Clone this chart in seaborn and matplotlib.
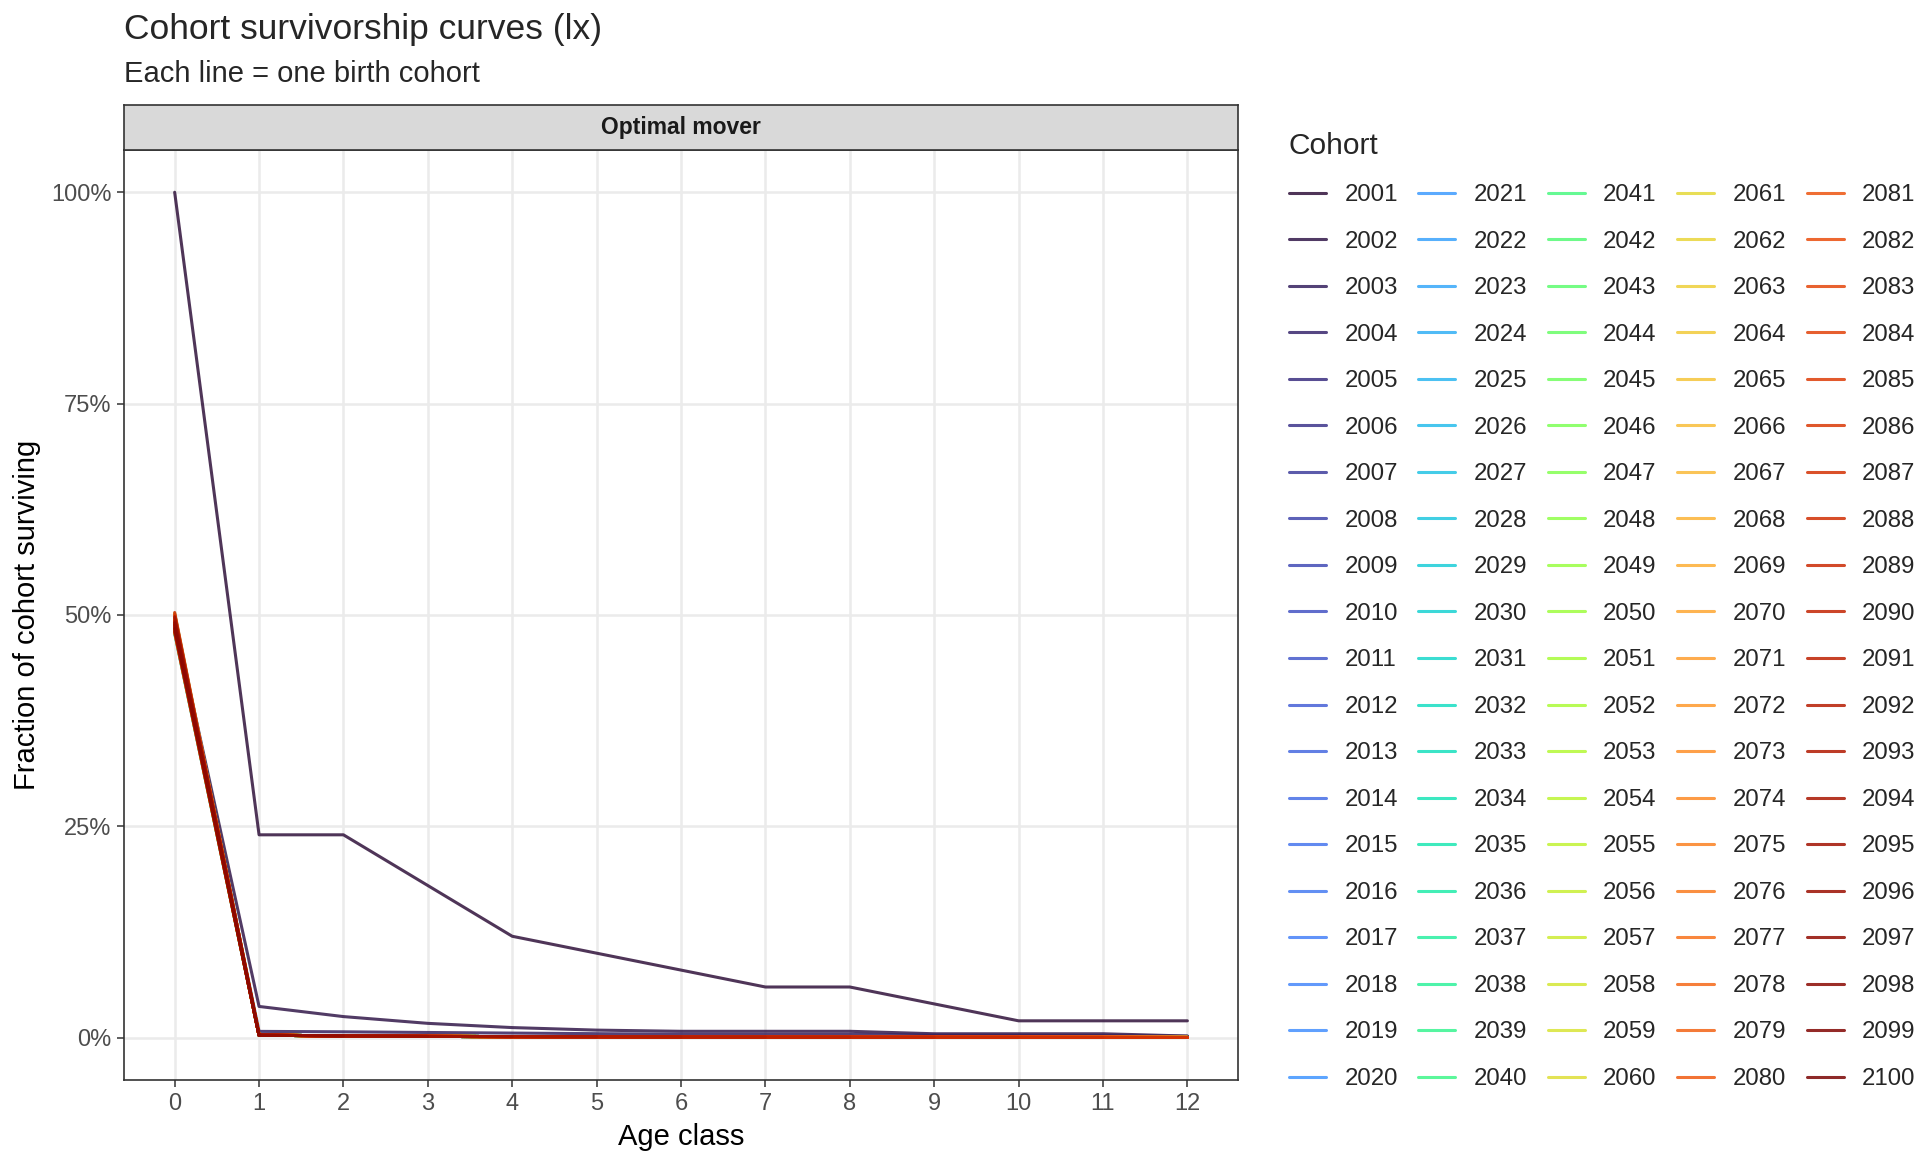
import matplotlib
matplotlib.use("Agg")
import matplotlib.pyplot as plt
import matplotlib.ticker as mticker
from matplotlib import colormaps
import numpy as np
import pandas as pd
import seaborn as sns

# ---------------- data ----------------
ages = list(range(13))
cohorts = list(range(2001, 2101))
last_year = 2099  # last observed calendar year

lx_2001 = [1.00, 0.24, 0.24, 0.18, 0.12, 0.10, 0.08, 0.06, 0.06, 0.04, 0.02, 0.02, 0.02]
lx_2002_tail = [0.037, 0.025, 0.017, 0.012, 0.009, 0.0076, 0.0076, 0.0076, 0.0047, 0.0047, 0.0047, 0.002]
lx_2003_tail = [0.0075, 0.0070, 0.0062, 0.0055, 0.0048, 0.0042, 0.0040, 0.0040, 0.0030, 0.0028, 0.0025, 0.0018]
lx_typical_tail = [0.0030, 0.0022, 0.0016, 0.0013, 0.0011, 0.0009, 0.0008, 0.0007, 0.0006, 0.0005, 0.0004, 0.0003]

# age-0 survivorship for cohorts 2002..2100
lx_age0 = [0.492, 0.488, 0.495, 0.483, 0.499, 0.487, 0.491, 0.480, 0.496, 0.489,
           0.484, 0.493, 0.498, 0.486, 0.490, 0.479, 0.494, 0.488, 0.501, 0.485,
           0.492, 0.482, 0.497, 0.489, 0.486, 0.495, 0.481, 0.490, 0.499, 0.487,
           0.493, 0.484, 0.496, 0.488, 0.491, 0.478, 0.494, 0.500, 0.486, 0.489,
           0.483, 0.497, 0.490, 0.485, 0.493, 0.488, 0.502, 0.481, 0.495, 0.487,
           0.491, 0.484, 0.498, 0.489, 0.486, 0.494, 0.480, 0.492, 0.500, 0.487,
           0.490, 0.483, 0.496, 0.488, 0.485, 0.493, 0.499, 0.482, 0.491, 0.487,
           0.495, 0.484, 0.489, 0.501, 0.486, 0.492, 0.479, 0.497, 0.488, 0.490,
           0.483, 0.494, 0.500, 0.485, 0.491, 0.487, 0.503, 0.482, 0.496, 0.489,
           0.486, 0.493, 0.480, 0.498, 0.488, 0.491, 0.484, 0.504, 0.487]

rows = []
for i, c in enumerate(cohorts):
    if c == 2001:
        series = lx_2001
    elif c == 2002:
        series = [lx_age0[0]] + lx_2002_tail
    elif c == 2003:
        series = [lx_age0[1]] + lx_2003_tail
    else:
        series = [lx_age0[i - 1]] + lx_typical_tail
    max_age = min(12, last_year - c)
    for a in ages[:max_age + 1]:
        rows.append({"cohort": str(c), "age": a, "lx": series[a]})
df = pd.DataFrame(rows)

cmap = colormaps["turbo"]
palette = {str(c): cmap(i / (len(cohorts) - 1)) for i, c in enumerate(cohorts)}

# ---------------- plot ----------------
sns.set_theme(style="white")
plt.rcParams["font.family"] = ["Liberation Sans", "DejaVu Sans"]

fig = plt.figure(figsize=(19.2, 11.52), dpi=100)
L, R, B, T = 0.0646, 0.6448, 0.0625, 0.8698
ax = fig.add_axes([L, B, R - L, T - B])
strip = fig.add_axes([L, T, R - L, 0.9089 - T])

for a in ages:
    ax.axvline(a, color="#EBEBEB", lw=1.8, zorder=0)
for yv in [0, 0.25, 0.5, 0.75, 1.0]:
    ax.axhline(yv, color="#EBEBEB", lw=1.8, zorder=0)

sns.lineplot(data=df, x="age", y="lx", hue="cohort", hue_order=[str(c) for c in cohorts],
             palette=palette, estimator=None, sort=False, lw=2.2, alpha=0.85,
             legend="full", ax=ax)

ax.set_xlim(-0.6, 12.6)
ax.set_ylim(-0.05, 1.05)
ax.set_xticks(ages)
ax.set_yticks([0, 0.25, 0.5, 0.75, 1.0])
ax.yaxis.set_major_formatter(mticker.FuncFormatter(lambda v, p: f"{v*100:.0f}%"))
ax.tick_params(axis="both", direction="out", length=5, width=1.1, color="#333333",
               labelsize=17, labelcolor="#4D4D4D", bottom=True, left=True, pad=4)
for s in ax.spines.values():
    s.set_color("#333333")
    s.set_linewidth(1.2)
ax.set_xlabel("Age class", fontsize=21, color="black", labelpad=6)
ax.set_ylabel("Fraction of cohort surviving", fontsize=21, color="black", labelpad=7)

strip.set_facecolor("#D9D9D9")
strip.set_xticks([])
strip.set_yticks([])
for s in strip.spines.values():
    s.set_color("#333333")
    s.set_linewidth(1.2)
strip.text(0.5, 0.5, "Optimal mover", ha="center", va="center", fontsize=16.5,
           fontweight="bold", color="#1A1A1A", transform=strip.transAxes)

fig.text(L, 0.974, "Cohort survivorship curves (lx)", fontsize=25.5, va="center", ha="left")
fig.text(L, 0.9357, "Each line = one birth cohort", fontsize=21, va="center", ha="left")

sns.move_legend(ax, loc="upper left", bbox_to_anchor=(0.665, 0.896),
                bbox_transform=fig.transFigure, ncol=5, frameon=False, borderpad=0,
                title="Cohort", title_fontsize=21.5, fontsize=17.3,
                handlelength=1.54, handletextpad=0.77, columnspacing=0.85,
                labelspacing=1.02, alignment="left")
leg = ax.get_legend()
for h in leg.legend_handles:
    h.set_linewidth(2.2)

fig.savefig("out.png", dpi=100)
